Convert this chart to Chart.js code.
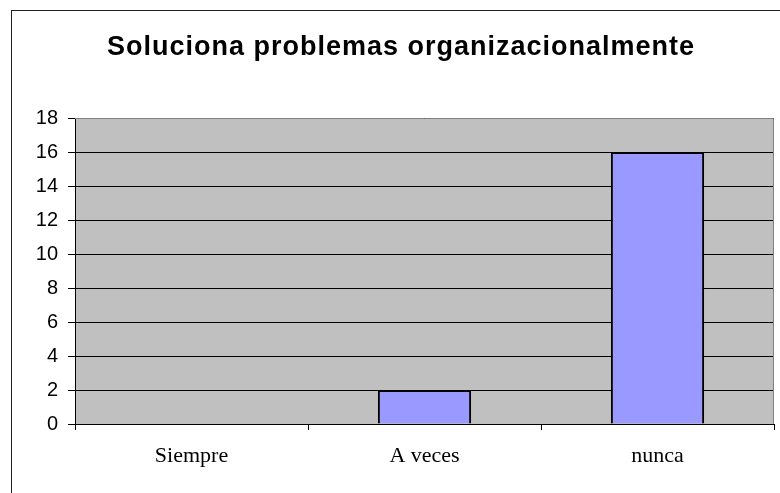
<!DOCTYPE html>
<html>
<head>
<meta charset="utf-8">
<script src="https://cdn.jsdelivr.net/npm/chart.js@4"></script>
<style>
  html, body { margin: 0; padding: 0; background: #fff; overflow: hidden; }
  #wrap { position: relative; width: 780px; height: 493px; }
  #frame { position: absolute; left: 11px; top: 10px; width: 820px; height: 520px; border: 1px solid #222; }
  #graf { position: absolute; left: 0; top: 0; }
</style>
</head>
<body>
<div id="wrap">
  <div id="frame"></div>
  <canvas id="graf" width="780" height="493"></canvas>
</div>
<script>
var categorias = ["Siempre", "A veces", "nunca"];
var valores = [0, 2, 16];
var titulo = "Soluciona problemas organizacionalmente";

// fondo gris del area de trazado + borde gris arriba/derecha
var fondoPlot = {
  id: 'fondoPlot',
  beforeDraw: function(chart) {
    var a = chart.chartArea, ctx = chart.ctx;
    ctx.save();
    ctx.fillStyle = '#C0C0C0';
    ctx.fillRect(a.left, a.top, a.right - a.left, a.bottom - a.top);
    ctx.restore();
  },
  afterDatasetsDraw: function(chart) {
    var a = chart.chartArea, ctx = chart.ctx;
    ctx.save();
    ctx.strokeStyle = '#808080';
    ctx.lineWidth = 1;
    ctx.beginPath();
    ctx.moveTo(a.left, a.top + 0.5);
    ctx.lineTo(a.right - 0.5, a.top + 0.5);
    ctx.lineTo(a.right - 0.5, a.bottom);
    ctx.stroke();
    ctx.restore();
  }
};

// titulo con un poco de espacio entre letras
var tituloPlugin = {
  id: 'tituloPlugin',
  afterDraw: function(chart) {
    var ctx = chart.ctx;
    ctx.save();
    ctx.font = 'bold 27px "Liberation Sans", Arial, sans-serif';
    if ('letterSpacing' in ctx) ctx.letterSpacing = '1px';
    ctx.fillStyle = '#000';
    ctx.textAlign = 'center';
    ctx.textBaseline = 'alphabetic';
    ctx.fillText(titulo, 401, 55);
    ctx.restore();
  }
};

var ctx = document.getElementById("graf").getContext("2d");
var graf = new Chart(ctx, {
  type: 'bar',
  data: {
    labels: categorias,
    datasets: [{
      data: valores,
      backgroundColor: '#9999FF',
      borderColor: '#000000',
      borderWidth: 2,
      barPercentage: 0.4,
      categoryPercentage: 1.0
    }]
  },
  options: {
    responsive: false,
    animation: false,
    layout: { padding: { left: 0, right: 6, top: 118, bottom: 0 } },
    plugins: {
      legend: { display: false },
      tooltip: { enabled: false },
      title: { display: false }
    },
    scales: {
      x: {
        grid: { display: true, drawOnChartArea: false, color: '#000', tickLength: 6, offset: true },
        border: { color: '#000', width: 1 },
        ticks: { color: '#000', font: { family: 'Liberation Serif', size: 22 }, padding: 13 },
        afterFit: function(s) { s.height = 69; }
      },
      y: {
        min: 0,
        max: 18,
        ticks: { stepSize: 2, color: '#000', font: { family: 'Liberation Sans', size: 20 }, padding: 10 },
        grid: { color: '#000', tickLength: 7 },
        border: { color: '#000', width: 1 },
        afterFit: function(s) { s.width = 75; }
      }
    }
  },
  plugins: [fondoPlot, tituloPlugin]
});
</script>
</body>
</html>
